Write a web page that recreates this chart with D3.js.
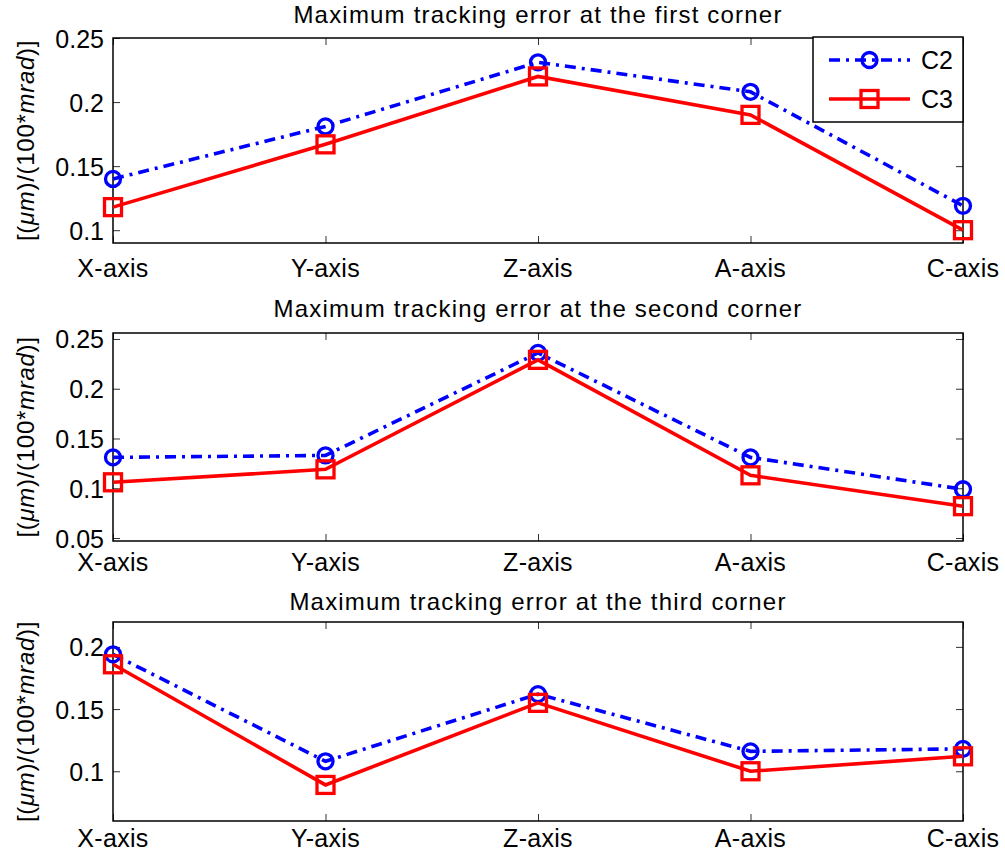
<!DOCTYPE html>
<html>
<head>
<meta charset="utf-8">
<script src="https://cdn.jsdelivr.net/npm/d3@7"></script>
<style>
  html, body { margin: 0; padding: 0; background: #fff; }
  svg { display: block; font-family: Arial, "Liberation Sans", sans-serif; }
</style>
</head>
<body>
<svg id="chart" width="1005" height="863"></svg>
<script>
// Axes (categories along x)
const categories = ["X-axis", "Y-axis", "Z-axis", "A-axis", "C-axis"];

// Panel titles
const titles = [
  "Maximum tracking error at the first corner",
  "Maximum tracking error at the second corner",
  "Maximum tracking error at the third corner"
];

// Series values per corner
const c2First  = [0.140, 0.181, 0.231, 0.208, 0.119];
const c3First  = [0.118, 0.167, 0.220, 0.190, 0.100];
const c2Second = [0.131, 0.133, 0.236, 0.131, 0.099];
const c3Second = [0.106, 0.119, 0.229, 0.113, 0.082];
const c2Third  = [0.194, 0.108, 0.162, 0.116, 0.118];
const c3Third  = [0.186, 0.089, 0.155, 0.100, 0.112];

// Y-axis limits and tick values per panel
const yLimits = [[0.09, 0.25], [0.047, 0.256], [0.06, 0.22]];
const yTicks = [
  [0.1, 0.15, 0.2, 0.25],
  [0.05, 0.1, 0.15, 0.2, 0.25],
  [0.1, 0.15, 0.2]
];
const yTickLabels = [
  ["0.1", "0.15", "0.2", "0.25"],
  ["0.05", "0.1", "0.15", "0.2", "0.25"],
  ["0.1", "0.15", "0.2"]
];

const seriesNames = ["C2", "C3"];

// Layout of the three stacked axes boxes
const left = 113, right = 963;
const panels = [
  { top: 38,  bottom: 243, titleY: 23,  xLabelDy: 34 },
  { top: 333, bottom: 541, titleY: 317, xLabelDy: 30 },
  { top: 622, bottom: 821, titleY: 610, xLabelDy: 26 }
];

const data = [
  [c2First, c3First],
  [c2Second, c3Second],
  [c2Third, c3Third]
];

const styles = [
  { color: "#0000ff", dash: "11,6,3,6", marker: "circle" },
  { color: "#ff0000", dash: null, marker: "square" }
];

const svg = d3.select("#chart");

const x = d3.scalePoint().domain(categories).range([left, right]);

panels.forEach((p, i) => {
  const y = d3.scaleLinear().domain(yLimits[i]).range([p.bottom, p.top]);
  const g = svg.append("g");

  // title
  g.append("text")
    .attr("x", (left + right) / 2)
    .attr("y", p.titleY)
    .attr("text-anchor", "middle")
    .attr("font-size", 24)
    .attr("letter-spacing", 1.2)
    .text(titles[i]);

  // ticks (inward on all four sides)
  const tickLen = 7;
  const axisBottom = d3.axisBottom(x).tickSizeInner(-tickLen).tickSizeOuter(0);
  const gb = g.append("g").attr("transform", `translate(0,${p.bottom})`).call(axisBottom);
  gb.select(".domain").remove();
  gb.selectAll("text").remove();
  gb.selectAll("line").attr("stroke", "#333").attr("stroke-width", 1);

  const axisTop = d3.axisTop(x).tickSizeInner(-tickLen).tickSizeOuter(0);
  const gt = g.append("g").attr("transform", `translate(0,${p.top})`).call(axisTop);
  gt.select(".domain").remove();
  gt.selectAll("text").remove();
  gt.selectAll("line").attr("stroke", "#333").attr("stroke-width", 1);

  const axisLeft = d3.axisLeft(y).tickValues(yTicks[i])
    .tickFormat((d, k) => yTickLabels[i][k])
    .tickSizeInner(-tickLen).tickSizeOuter(0);
  const gl = g.append("g").attr("transform", `translate(${left},0)`).call(axisLeft);
  gl.select(".domain").remove();
  gl.selectAll("line").attr("stroke", "#333").attr("stroke-width", 1);
  gl.selectAll("text")
    .attr("font-size", 25)
    .attr("fill", "#000")
    .attr("font-family", "Arial, 'Liberation Sans', sans-serif")
    .attr("x", -9)
    .attr("dy", "0.36em");

  const axisRight = d3.axisRight(y).tickValues(yTicks[i]).tickSizeInner(-tickLen).tickSizeOuter(0);
  const gr = g.append("g").attr("transform", `translate(${right},0)`).call(axisRight);
  gr.select(".domain").remove();
  gr.selectAll("text").remove();
  gr.selectAll("line").attr("stroke", "#333").attr("stroke-width", 1);

  // category labels
  g.selectAll("text.xlab").data(categories).enter().append("text")
    .attr("class", "xlab")
    .attr("x", d => x(d))
    .attr("y", p.bottom + p.xLabelDy)
    .attr("text-anchor", "middle")
    .attr("font-size", 25)
    .attr("letter-spacing", 0.3)
    .text(d => d);

  // y-axis label
  const yl = g.append("text")
    .attr("transform", `translate(34,${(p.top + p.bottom) / 2}) rotate(-90)`)
    .attr("text-anchor", "middle")
    .attr("font-size", 24)
    .attr("letter-spacing", 0.7);
  yl.append("tspan").text("[(");
  yl.append("tspan").attr("font-style", "italic").text("μm");
  yl.append("tspan").text(")/(100*");
  yl.append("tspan").attr("font-style", "italic").text("mrad");
  yl.append("tspan").text(")]");

  // box
  g.append("rect")
    .attr("x", left).attr("y", p.top)
    .attr("width", right - left).attr("height", p.bottom - p.top)
    .attr("fill", "none").attr("stroke", "#000").attr("stroke-width", 1.5);

  // series
  const line = d3.line().x((d, k) => x(categories[k])).y(d => y(d));
  data[i].forEach((vals, s) => {
    const st = styles[s];
    g.append("path")
      .datum(vals)
      .attr("d", line)
      .attr("fill", "none")
      .attr("stroke", st.color)
      .attr("stroke-width", 3.6)
      .attr("stroke-dasharray", st.dash);
    if (st.marker === "circle") {
      g.selectAll(null).data(vals).enter().append("circle")
        .attr("cx", (d, k) => x(categories[k]))
        .attr("cy", d => y(d))
        .attr("r", 7.5)
        .attr("fill", "none")
        .attr("stroke", st.color)
        .attr("stroke-width", 3.3);
    } else {
      g.selectAll(null).data(vals).enter().append("rect")
        .attr("x", (d, k) => x(categories[k]) - 8.5)
        .attr("y", d => y(d) - 8.5)
        .attr("width", 17).attr("height", 17)
        .attr("fill", "none")
        .attr("stroke", st.color)
        .attr("stroke-width", 3.3);
    }
  });

  // legend in the first panel
  if (i === 0) {
    const lg = g.append("g");
    lg.append("rect")
      .attr("x", 813).attr("y", 37).attr("width", right - 813).attr("height", 85)
      .attr("fill", "#fff").attr("stroke", "#000").attr("stroke-width", 1.5);
    const rowsY = [60, 99];
    seriesNames.forEach((name, s) => {
      const st = styles[s];
      const ly = rowsY[s];
      lg.append("line")
        .attr("x1", 829).attr("x2", 910).attr("y1", ly).attr("y2", ly)
        .attr("stroke", st.color).attr("stroke-width", 3.6)
        .attr("stroke-dasharray", st.dash);
      if (st.marker === "circle") {
        lg.append("circle").attr("cx", 869.5).attr("cy", ly).attr("r", 7.5)
          .attr("fill", "none").attr("stroke", st.color).attr("stroke-width", 3.3);
      } else {
        lg.append("rect").attr("x", 861).attr("y", ly - 8.5).attr("width", 17).attr("height", 17)
          .attr("fill", "none").attr("stroke", st.color).attr("stroke-width", 3.3);
      }
      lg.append("text").attr("x", 921).attr("y", ly).attr("dy", "0.36em")
        .attr("font-size", 25).text(name);
    });
  }
});
</script>
</body>
</html>
